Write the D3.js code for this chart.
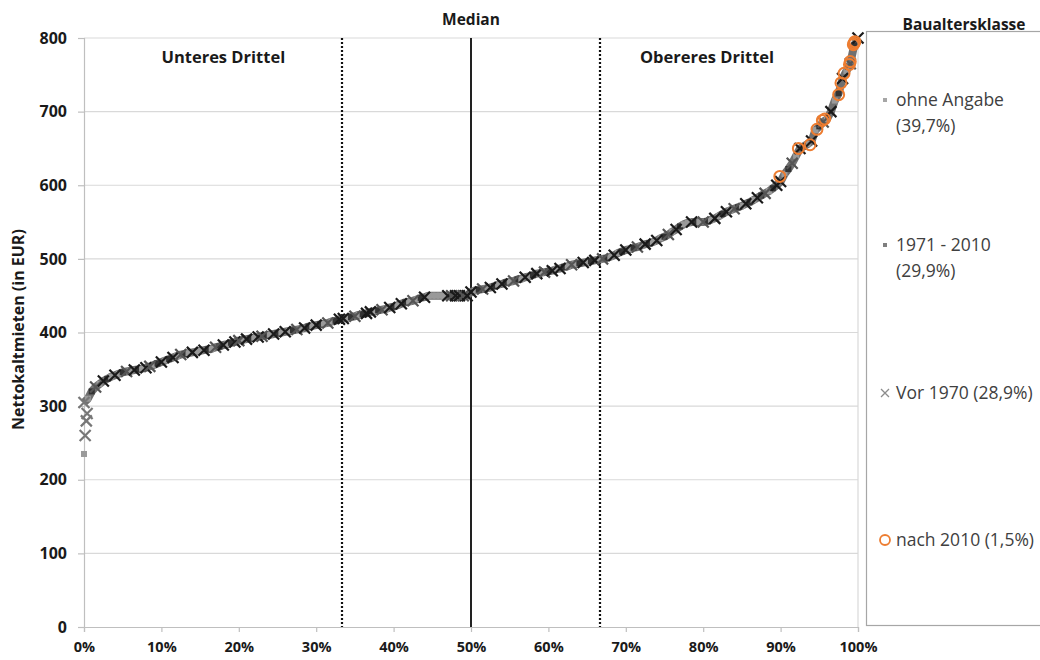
<!DOCTYPE html>
<html><head><meta charset="utf-8">
<script src="https://cdn.jsdelivr.net/npm/d3@7"></script>
<style>
html,body{margin:0;padding:0;background:#fff;}
svg{display:block;font-family:"Open Sans",sans-serif;}
</style></head>
<body><svg id="c" width="1040" height="660"></svg>
<script>
// ---- data ----
const yTicks = [0,100,200,300,400,500,600,700,800];
const xTicks = [0,10,20,30,40,50,60,70,80,90,100];
const thirds = [100/3, 200/3];
const medianPct = 50;
const gridStep = 0.5; // percent between read points
// rent (EUR) read at 0%, 0.5%, 1%, ... 100% of the sorted sample
const rentQuantiles = [
 305,310,320,326,330,334,337,340,342,344,
 346,347,348,349,350,351,352,354,356,358,
 360,362,364,366,368,370,371,372,373,374,
 375,376,377,378,380,381,383,384,386,387,
 389,390,391,392,393,394,395,396,397,398,
 399,400,401,402,403,404,405,406,408,409,
 410,411,412,413,415,416,418,419,420,421,
 422,424,425,426,428,429,430,431,432,434,
 435,437,439,441,442,443,445,447,448,450,
 450,450,450,450,450,450,450,450,450,450,
 455,457,458,459,460,461,463,465,466,468,
 469,470,472,473,475,476,478,480,481,482,
 483,484,486,487,489,490,492,493,494,495,
 496,497,498,499,500,501,503,505,508,510,
 512,513,515,516,518,520,521,523,525,528,
 530,533,537,540,544,547,549,550,550,550,
 550,551,553,555,558,561,564,566,568,570,
 572,575,577,580,583,586,589,592,596,600,
 605,615,622,630,640,650,653,656,660,675,
 680,686,690,700,715,725,745,755,765,790,
 800
];
// Baualtersklasse of each read point: o = ohne Angabe, m = 1971-2010, v = Vor 1970
const classCodes =
 "vomvovmovo"+"mvovmovvom"+"vomvovmovo"+"ovmovmvomv"+"vovmovvmov"+
 "movomvovmo"+"vmovomvvom"+"vomvvomvov"+"movmovomvo"+"oooovvvvvv"+
 "vomvovmovm"+"ovmovomvov"+"mvovmovomv"+"omvovmovom"+"vomvovmovo"+
 "mvovmoovmo"+"vmovomvovm"+"ovmovmvomv"+"vomvovmovo"+"mvovomvovm"+"v";
// lowest rents at the very start of the distribution
const tailPct  = [0, 0.15, 0.3, 0.4];
const tailRent = [235, 260, 280, 290];
const tailCodes = "ovvv";
// nach 2010 (orange circles)
const newPct  = [89.9, 92.3, 93.8, 94.7, 95.4, 95.7, 97.5, 97.8, 98.2, 98.9, 99.0, 99.4, 99.5, 99.6];
const newRent = [612, 650, 655, 676, 688, 690, 723, 739, 752, 764, 768, 791, 793, 795];
const legendLabels = [["ohne Angabe","(39,7%)"],["1971 - 2010","(29,9%)"],["Vor 1970 (28,9%)"],["nach 2010 (1,5%)"]];
const legendKeys = ["o","m","v","n"];

// ---- drawing ----
const svg = d3.select("#c");
const x = d3.scaleLinear().domain([0,100]).range([84,858]);
const y = d3.scaleLinear().domain([0,800]).range([627,38]);
const orange = "#ED7D31";

// gridlines
svg.append("g").selectAll("line").data(yTicks.filter(d=>d>0)).join("line")
  .attr("x1",x(0)).attr("x2",x(100)).attr("y1",d=>y(d)).attr("y2",d=>y(d))
  .attr("stroke","#d9d9d9").attr("stroke-width",1.2);
svg.append("line").attr("x1",x(100)).attr("x2",x(100)).attr("y1",y(800)).attr("y2",y(0))
  .attr("stroke","#d9d9d9").attr("stroke-width",1.2);

// axes
const yAxis = svg.append("g").attr("transform",`translate(${x(0)},0)`)
  .call(d3.axisLeft(y).tickValues(yTicks).tickSize(6).tickPadding(11));
const xAxis = svg.append("g").attr("transform",`translate(0,${y(0)})`)
  .call(d3.axisBottom(x).tickValues(xTicks).tickSize(5).tickPadding(10).tickFormat(d=>d+"%"));
[yAxis,xAxis].forEach(g=>{
  g.select(".domain").attr("stroke","#bfbfbf").attr("stroke-width",1.2);
  g.selectAll(".tick line").attr("stroke","#bfbfbf").attr("stroke-width",1.2);
  g.selectAll("text").attr("fill","#1a1a1a").attr("font-weight",700).attr("font-family","Open Sans");
});
yAxis.selectAll("text").attr("font-size",16);
xAxis.selectAll("text").attr("font-size",14.5);

// third and median lines
svg.append("g").selectAll("line").data(thirds).join("line")
  .attr("x1",d=>x(d)).attr("x2",d=>x(d)).attr("y1",y(800)).attr("y2",y(0))
  .attr("stroke","#111").attr("stroke-width",2.2).attr("stroke-dasharray","2,2");
svg.append("line").attr("x1",x(medianPct)).attr("x2",x(medianPct)).attr("y1",y(800)).attr("y2",y(0))
  .attr("stroke","#222").attr("stroke-width",2);

// points
const pts = rentQuantiles.map((r,i)=>({p:i*gridStep, r, c:classCodes[i]}));
const tail = tailPct.map((p,i)=>({p, r:tailRent[i], c:tailCodes[i]}));
const all = tail.concat(pts);

// grey band of densely packed markers
svg.append("path").datum(pts)
  .attr("d", d3.line().x(d=>x(d.p)).y(d=>y(d.r)))
  .attr("fill","none").attr("stroke","#707070").attr("stroke-width",8).attr("stroke-linejoin","round");

const mk = svg.append("g");
mk.selectAll("rect.sq").data(all.filter(d=>d.c!=="v")).join("rect")
  .attr("class","sq")
  .attr("x",d=>x(d.p)-3).attr("y",d=>y(d.r)-3).attr("width",6).attr("height",6)
  .attr("fill",d=>d.c==="o"?"#9a9a9a":"#333");
const s = 5.5;
mk.selectAll("path.xm").data(all.filter(d=>d.c==="v")).join("path")
  .attr("class","xm")
  .attr("d",d=>{const cx=x(d.p), cy=y(d.r); return `M${cx-s},${cy-s}L${cx+s},${cy+s}M${cx-s},${cy+s}L${cx+s},${cy-s}`;})
  .attr("stroke",(d,i)=>i<4?"#777":(i%3===1?"#555":"#1a1a1a")).attr("stroke-width",2.2).attr("fill","none");
mk.selectAll("circle").data(newPct.map((p,i)=>({p, r:newRent[i]}))).join("circle")
  .attr("cx",d=>x(d.p)).attr("cy",d=>y(d.r)).attr("r",5.5)
  .attr("fill","none").attr("stroke",orange).attr("stroke-width",2);

// annotations
const bold = (t,xx,yy,fs)=>svg.append("text").attr("x",xx).attr("y",yy).attr("text-anchor","middle")
  .attr("font-weight",700).attr("font-size",fs).attr("fill","#1a1a1a").text(t);
bold("Median", x(medianPct), 25, 15.5);
bold("Unteres Drittel", x(18), 63, 16.5);
bold("Obereres Drittel", x(80.5), 63, 16.5);
bold("Baualtersklasse", 964, 30, 15.5);
svg.append("text").attr("transform",`translate(24,${y(404)}) rotate(-90)`).attr("text-anchor","middle")
  .attr("font-weight",700).attr("font-size",16).attr("fill","#1a1a1a").text("Nettokaltmieten (in EUR)");

// legend
svg.append("rect").attr("x",866.5).attr("y",31.5).attr("width",200).attr("height",594)
  .attr("fill","none").attr("stroke","#a6a6a6").attr("stroke-width",1.2);
const legY = [100, 245, 393, 540];
const lg = svg.append("g");
legendKeys.forEach((k,i)=>{
  const cy = legY[i], cx = 885;
  if(k==="o"||k==="m"){
    lg.append("rect").attr("x",cx-2).attr("y",cy-2).attr("width",4).attr("height",4).attr("fill",k==="o"?"#a6a6a6":"#7f7f7f");
  } else if(k==="v"){
    lg.append("path").attr("d",`M${cx-4},${cy-4}L${cx+4},${cy+4}M${cx-4},${cy+4}L${cx+4},${cy-4}`)
      .attr("stroke","#8c8c8c").attr("stroke-width",1.3);
  } else {
    lg.append("circle").attr("cx",cx).attr("cy",cy).attr("r",5).attr("fill","none").attr("stroke",orange).attr("stroke-width",1.8);
  }
  legendLabels[i].forEach((t,j)=>{
    lg.append("text").attr("x",896).attr("y",cy+6+j*26).attr("font-size",17.5).attr("fill","#404040").text(t);
  });
});
</script></body></html>
